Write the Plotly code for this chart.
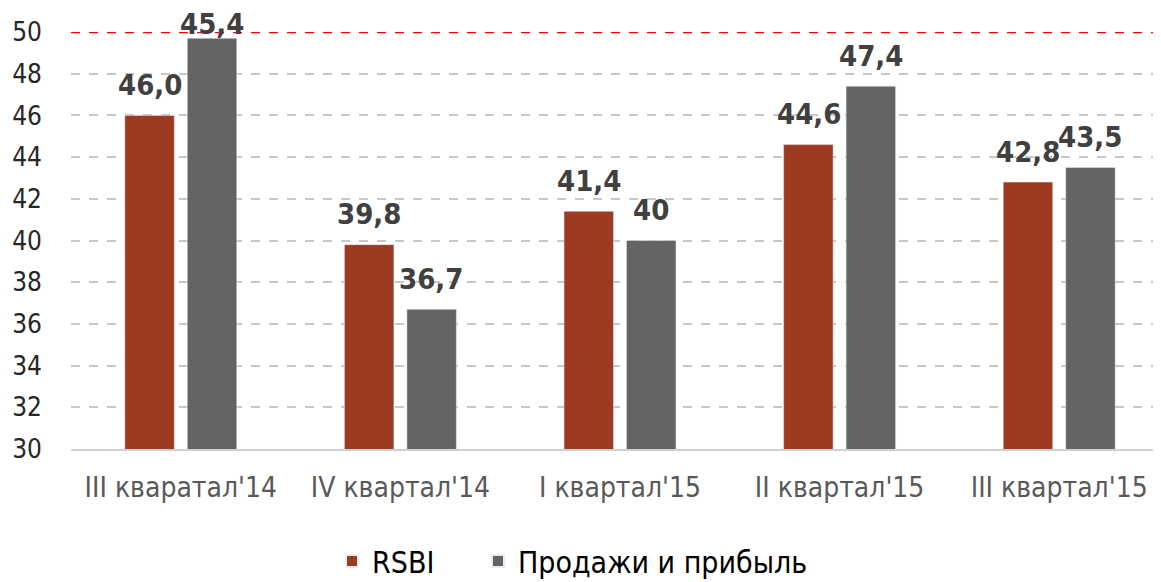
import plotly.graph_objects as go

categories = ["III кваратал'14", "IV квартал'14", "I квартал'15", "II квартал'15", "III квартал'15"]
rsbi_values = [46.0, 39.8, 41.4, 44.6, 42.8]
sales_values = [49.7, 36.7, 40.0, 47.4, 43.5]
rsbi_labels = ["46,0", "39,8", "41,4", "44,6", "42,8"]
sales_labels = ["45,4", "36,7", "40", "47,4", "43,5"]
y_ticks = [30, 32, 34, 36, 38, 40, 42, 44, 46, 48, 50]
threshold = 50

RED = "#9C3A22"
GREY = "#646464"
NARROW = "Liberation Sans Narrow, Arial Narrow, DejaVu Sans Condensed, sans-serif"

fig = go.Figure()
fig.add_trace(go.Bar(name="RSBI", x=categories, y=rsbi_values, marker_color=RED,
                     cliponaxis=False, legend="legend"))
fig.add_trace(go.Bar(name="Продажи и прибыль", x=categories, y=sales_values, marker_color=GREY,
                     cliponaxis=False, legend="legend2"))

y_min, y_max = y_ticks[0], y_ticks[-1]
for vals, labels, shift in [(rsbi_values, rsbi_labels, -31), (sales_values, sales_labels, 31)]:
    for c, v, t in zip(categories, vals, labels):
        fig.add_annotation(x=c, y=min(v + 0.55, y_max - 0.55), text=t, showarrow=False,
                           xshift=shift, yanchor="bottom",
                           font=dict(family=NARROW, size=29, color="#404040", weight="bold"))

fig.add_shape(type="line", xref="paper", x0=0, x1=1, yref="y", y0=threshold, y1=threshold,
              line=dict(color="#FF0000", width=2.5, dash="dash"), layer="above")

legend_common = dict(orientation="h", xref="container", xanchor="left",
                     yref="container", y=0.05, yanchor="middle",
                     font=dict(family=NARROW, size=30, color="#000000"),
                     itemsizing="constant", bgcolor="rgba(0,0,0,0)")

fig.update_layout(
    width=1161, height=582,
    margin=dict(l=63, r=0, t=24, b=141, autoexpand=False),
    plot_bgcolor="white", paper_bgcolor="white",
    barmode="group", bargap=0.431, bargroupgap=0.208,
    showlegend=True,
    legend=dict(x=(372 - 48) / 1161, **legend_common),
    legend2=dict(x=(518 - 48) / 1161, **legend_common),
    xaxis=dict(showgrid=False, showline=True, linecolor="#D0D0D0", linewidth=2,
               tickfont=dict(family=NARROW, size=28, color="#595959"), ticks="",
               ticklabelstandoff=12),
    yaxis=dict(range=[y_min, y_max], tickvals=y_ticks, showgrid=True,
               gridcolor="#C8C8C8", gridwidth=2, griddash="dash", zeroline=False,
               tickfont=dict(family=NARROW, size=26, color="#262626"), ticks="",
               ticklabelstandoff=28, showline=False),
)

fig.write_html("out.html")
